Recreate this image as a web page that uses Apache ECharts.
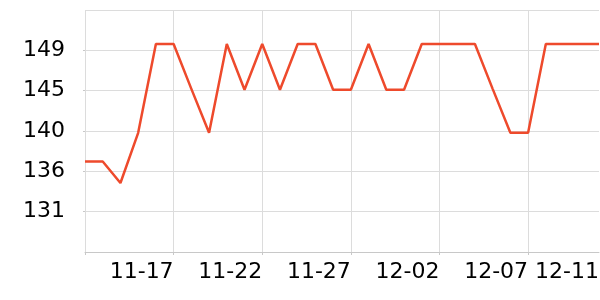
<!DOCTYPE html>
<html><head><meta charset="utf-8">
<script src="https://cdn.jsdelivr.net/npm/echarts@6/dist/echarts.min.js"></script>
<style>html,body{margin:0;padding:0;background:#fff}#c{width:600px;height:300px}</style>
</head><body><div id="c"></div>
<script>
const categories = ['11-12','11-13','11-14','11-15','11-16','11-17','11-18','11-19','11-20','11-21','11-22','11-23','11-24','11-25','11-26','11-27','11-28','11-29','11-30','12-01','12-02','12-03','12-04','12-05','12-06','12-07','12-08','12-09','12-10','12-11'];
const values = [136.6,136.6,134.2,139.8,149.7,149.7,144.7,139.8,149.7,144.6,149.7,144.6,149.7,149.7,144.6,144.6,149.7,144.6,144.6,149.7,149.7,149.7,149.7,144.7,139.8,139.8,149.7,149.7,149.7,149.7];
const yMin = 126.5, yMax = 153.5, yStep = 4.5;

const chart = echarts.init(document.getElementById('c'), null, {renderer:'canvas'});
const last = categories.length - 1;
chart.setOption({
  animation:false,
  grid:{left:85,right:1,top:10,bottom:48,containLabel:false,outerBoundsMode:'none'},
  xAxis:{
    type:'category', data:categories, boundaryGap:false,
    axisLine:{lineStyle:{color:'#c8c8c8'}},
    axisTick:{interval:4, length:3, lineStyle:{color:'#c8c8c8'}},
    splitLine:{show:true, interval:4, lineStyle:{color:'#dcdcdc'}},
    axisLabel:{
      interval:function(i){return i>0 && (i%5===0 || i===last);},
      align:'right', margin:9, fontSize:22, color:'#000', fontFamily:'DejaVu Sans'
    }
  },
  yAxis:{
    type:'value', min:yMin, max:yMax, interval:yStep,
    axisLine:{show:false},
    axisTick:{show:true, length:2, lineStyle:{color:'#c8c8c8'}},
    splitLine:{lineStyle:{color:'#dcdcdc'}},
    axisLabel:{
      showMinLabel:false, showMaxLabel:false, margin:20,
      fontSize:22, color:'#000', fontFamily:'DejaVu Sans',
      formatter:function(v){return v.toFixed(0);}
    }
  },
  series:[{type:'line', data:values, showSymbol:false, symbol:'none',
    lineStyle:{color:'#ee4a2c', width:2.5}}]
});
</script></body></html>
